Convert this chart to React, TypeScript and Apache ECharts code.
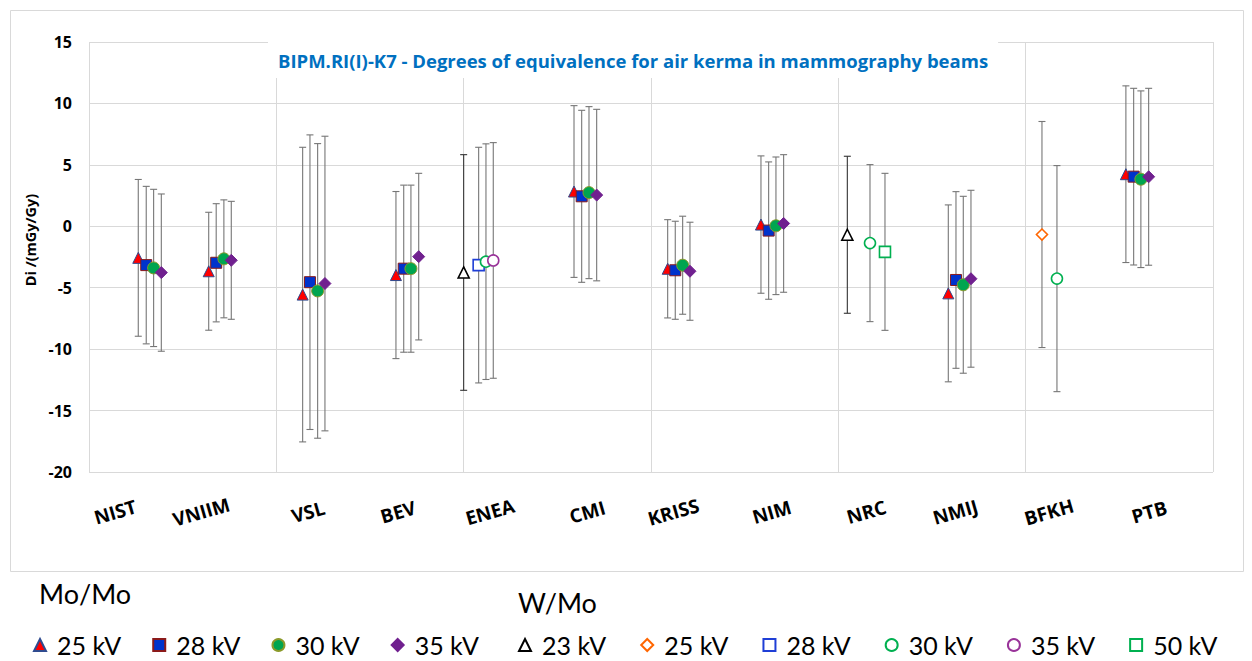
import React, { useEffect, useRef } from 'react';
import * as echarts from 'echarts';

// ---------- data ----------
const LABS = ['NIST', 'VNIIM', 'VSL', 'BEV', 'ENEA', 'CMI', 'KRISS', 'NIM', 'NRC', 'NMIJ', 'BFKH', 'PTB'];
const LAB_LABEL_X = [0.28, 1.2, 2.34, 3.3, 4.28, 5.32, 6.24, 7.29, 8.3, 9.25, 10.25, 11.32];

const Y_MIN = -20;
const Y_MAX = 15;
const Y_STEP = 5;
const X_MIN = 0;
const X_MAX = 12;
const X_STEP = 2;

const TITLE = 'BIPM.RI(I)-K7 - Degrees of equivalence for air kerma in mammography beams';
const Y_NAME = 'Di /(mGy/Gy)';
const GROUPS = ['Mo/Mo', 'W/Mo'];

// Mo/Mo  (labs: NIST, VNIIM, VSL, BEV, CMI, KRISS, NIM, NMIJ, PTB)
const MOMO25_X = [0.526, 1.278, 2.281, 3.277, 5.178, 6.178, 7.174, 9.174, 11.07];
const MOMO25_D = [-2.57, -3.66, -5.56, -3.97, 2.83, -3.46, 0.14, -5.46, 4.24];
const MOMO25_U = [6.38, 4.8, 11.99, 6.8, 6.99, 4.0, 5.59, 7.2, 7.19];

const MOMO28_X = [0.611, 1.358, 2.359, 3.36, 5.26, 6.259, 7.256, 9.256, 11.153];
const MOMO28_D = [-3.16, -2.97, -4.55, -3.45, 2.44, -3.58, -0.35, -4.37, 4.04];
const MOMO28_U = [6.41, 4.81, 11.99, 6.8, 7.0, 3.99, 5.59, 7.19, 7.19];

const MOMO30_X = [0.69, 1.44, 2.441, 3.437, 5.338, 6.338, 7.334, 9.334, 11.23];
const MOMO30_D = [-3.39, -2.65, -5.26, -3.45, 2.74, -3.17, 0.04, -4.76, 3.83];
const MOMO30_U = [6.4, 4.8, 11.99, 6.8, 7.0, 3.99, 5.6, 7.2, 7.19];

const MOMO35_X = [0.772, 1.519, 2.519, 3.52, 5.42, 6.416, 7.416, 9.416, 11.313];
const MOMO35_D = [-3.77, -2.77, -4.66, -2.47, 2.54, -3.66, 0.23, -4.27, 4.03];
const MOMO35_U = [6.4, 4.8, 11.99, 6.78, 6.98, 3.99, 5.6, 7.2, 7.2];

// W/Mo
const WMO23_X = [4.0, 8.096];          // ENEA, NRC
const WMO23_D = [-3.76, -0.69];
const WMO23_U = [9.59, 6.39];

const WMO25_X = [10.174];              // BFKH
const WMO25_D = [-0.67];
const WMO25_U = [9.2];

const WMO28_X = [4.16];                // ENEA
const WMO28_D = [-3.16];
const WMO28_U = [9.59];

const WMO30_X = [4.238, 8.338, 10.334]; // ENEA, NRC, BFKH
const WMO30_D = [-2.88, -1.37, -4.26];
const WMO30_U = [9.59, 6.39, 9.2];

const WMO35_X = [4.316];               // ENEA
const WMO35_D = [-2.78];
const WMO35_U = [9.59];

const WMO50_X = [8.498];               // NRC
const WMO50_D = [-2.08];
const WMO50_U = [6.39];

// ---------- styles ----------
type Def = {
  id: string; group: string;
  x: number[]; d: number[]; u: number[];
  symbol: string; size: number; fill: string; border: string; bw: number; bar: string;
};

const DEFS: Def[] = [
  { id: 'Mo/Mo 25 kV', group: 'Mo/Mo', x: MOMO25_X, d: MOMO25_D, u: MOMO25_U, symbol: 'triangle', size: 11, fill: '#FF0000', border: '#2F4B8F', bw: 1, bar: '#767676' },
  { id: 'Mo/Mo 28 kV', group: 'Mo/Mo', x: MOMO28_X, d: MOMO28_D, u: MOMO28_U, symbol: 'rect', size: 11, fill: '#0033CC', border: '#8B1A1A', bw: 1, bar: '#767676' },
  { id: 'Mo/Mo 30 kV', group: 'Mo/Mo', x: MOMO30_X, d: MOMO30_D, u: MOMO30_U, symbol: 'circle', size: 12, fill: '#00A550', border: '#8A9A2A', bw: 1, bar: '#767676' },
  { id: 'Mo/Mo 35 kV', group: 'Mo/Mo', x: MOMO35_X, d: MOMO35_D, u: MOMO35_U, symbol: 'diamond', size: 12, fill: '#70208F', border: '#70208F', bw: 1, bar: '#767676' },
  { id: 'W/Mo 23 kV', group: 'W/Mo', x: WMO23_X, d: WMO23_D, u: WMO23_U, symbol: 'triangle', size: 11, fill: '#ffffff', border: '#000000', bw: 1.6, bar: '#333333' },
  { id: 'W/Mo 25 kV', group: 'W/Mo', x: WMO25_X, d: WMO25_D, u: WMO25_U, symbol: 'diamond', size: 11, fill: '#ffffff', border: '#FF6600', bw: 1.6, bar: '#767676' },
  { id: 'W/Mo 28 kV', group: 'W/Mo', x: WMO28_X, d: WMO28_D, u: WMO28_U, symbol: 'rect', size: 11, fill: '#ffffff', border: '#1F3FD6', bw: 1.6, bar: '#767676' },
  { id: 'W/Mo 30 kV', group: 'W/Mo', x: WMO30_X, d: WMO30_D, u: WMO30_U, symbol: 'circle', size: 11, fill: '#ffffff', border: '#00B050', bw: 1.6, bar: '#767676' },
  { id: 'W/Mo 35 kV', group: 'W/Mo', x: WMO35_X, d: WMO35_D, u: WMO35_U, symbol: 'circle', size: 11, fill: '#ffffff', border: '#993399', bw: 1.6, bar: '#767676' },
  { id: 'W/Mo 50 kV', group: 'W/Mo', x: WMO50_X, d: WMO50_D, u: WMO50_U, symbol: 'rect', size: 11, fill: '#ffffff', border: '#00B050', bw: 1.6, bar: '#767676' },
];

const FONT = "'Open Sans', 'Noto Sans', sans-serif";
const LEG_FONT = "Lato, 'Noto Sans', sans-serif";

function errorBarSeries(def: Def) {
  return {
    type: 'custom',
    name: def.id + ' U',
    silent: true,
    z: 2,
    data: def.x.map((xi, i) => [xi, def.d[i], def.u[i]]),
    encode: { x: 0, y: 1 },
    renderItem: (_params: any, api: any) => {
      const xv = api.value(0);
      const v = api.value(1);
      const e = api.value(2);
      const top = api.coord([xv, v + e]);
      const bot = api.coord([xv, v - e]);
      const cw = 3.5;
      const style = { stroke: def.bar, lineWidth: 1.1 };
      return {
        type: 'group',
        children: [
          { type: 'line', shape: { x1: top[0], y1: top[1], x2: bot[0], y2: bot[1] }, style },
          { type: 'line', shape: { x1: top[0] - cw, y1: top[1], x2: top[0] + cw, y2: top[1] }, style },
          { type: 'line', shape: { x1: bot[0] - cw, y1: bot[1], x2: bot[0] + cw, y2: bot[1] }, style },
        ],
      };
    },
  };
}

function scatterSeries(def: Def) {
  return {
    type: 'scatter',
    name: def.id,
    z: 4,
    symbol: def.symbol,
    symbolSize: def.size,
    data: def.x.map((xi, i) => [xi, def.d[i]]),
    itemStyle: { color: def.fill, borderColor: def.border, borderWidth: def.bw, opacity: 1 },
  };
}

function legendFor(group: string, left: number, gap: number) {
  return {
    left,
    top: 626,
    orient: 'horizontal',
    itemWidth: 12,
    itemHeight: 12,
    itemGap: gap,
    selectedMode: false,
    data: DEFS.filter((d) => d.group === group).map((d) => d.id),
    formatter: (name: string) => name.split(' ').slice(1).join(' '),
    textStyle: { fontFamily: LEG_FONT, fontSize: 25, color: '#000', lineHeight: 28, padding: [0, 0, 0, 6] },
  };
}

export default function App() {
  const ref = useRef<HTMLDivElement>(null);

  useEffect(() => {
    if (!ref.current) return;
    const chart = echarts.init(ref.current, undefined, { renderer: 'svg' });

    const labelSeries = {
      type: 'custom',
      name: 'labs',
      silent: true,
      clip: false,
      z: 5,
      data: LAB_LABEL_X.map((x) => [x, Y_MIN]),
      encode: { x: 0, y: 1 },
      renderItem: (params: any, api: any) => {
        const p = api.coord([api.value(0), api.value(1)]);
        return {
          type: 'text',
          x: p[0],
          y: p[1] + 40,
          rotation: (16 * Math.PI) / 180,
          style: {
            text: LABS[params.dataIndex],
            fontFamily: FONT,
            fontWeight: 'bold',
            fontSize: 19,
            fill: '#000',
            align: 'center',
            verticalAlign: 'middle',
          },
        };
      },
    };

    const option: any = {
      animation: false,
      backgroundColor: '#ffffff',
      title: {
        text: TITLE,
        left: 268,
        top: 42,
        padding: [7, 10],
        backgroundColor: '#ffffff',
        textStyle: { fontFamily: FONT, fontWeight: 'bold', fontSize: 18.5, color: '#0070C0', lineHeight: 22 },
      },
      grid: { left: 89, right: 39, top: 42, bottom: 189, containLabel: false },
      xAxis: {
        type: 'value',
        min: X_MIN,
        max: X_MAX,
        interval: X_STEP,
        axisLine: { show: false },
        axisTick: { show: false },
        axisLabel: { show: false },
        splitLine: { show: true, lineStyle: { color: '#d9d9d9', width: 1 } },
      },
      yAxis: {
        type: 'value',
        min: Y_MIN,
        max: Y_MAX,
        interval: Y_STEP,
        name: Y_NAME,
        nameLocation: 'middle',
        nameRotate: 90,
        nameGap: 50,
        nameTextStyle: { fontFamily: FONT, fontWeight: 'bold', fontSize: 14.5, color: '#000', padding: [0, 0, 0, 34] },
        axisLine: { show: false },
        axisTick: { show: false },
        axisLabel: { fontFamily: FONT, fontWeight: 'bold', fontSize: 16, color: '#000', margin: 17 },
        splitLine: { show: true, lineStyle: { color: '#d9d9d9', width: 1 } },
      },
      legend: [legendFor('Mo/Mo', 28, 31), legendFor('W/Mo', 513, 34)],
      graphic: [
        {
          type: 'rect',
          left: 8,
          top: 8,
          z: -10,
          shape: { x: 0, y: 0, width: 1233, height: 561 },
          style: { fill: 'none', stroke: '#d9d9d9', lineWidth: 1 },
          silent: true,
        },
        {
          type: 'text',
          left: 39,
          top: 580,
          style: { text: GROUPS[0], fontFamily: LEG_FONT, fontSize: 27, fill: '#000' },
        },
        {
          type: 'text',
          left: 518,
          top: 589,
          style: { text: GROUPS[1], fontFamily: LEG_FONT, fontSize: 27, fill: '#000' },
        },
      ],
      series: [
        ...DEFS.map(errorBarSeries),
        ...DEFS.map(scatterSeries),
        labelSeries,
      ],
    };

    chart.setOption(option);
    return () => chart.dispose();
  }, []);

  return (
    <div
      ref={ref}
      style={{ position: 'fixed', left: 0, top: 0, width: 1252, height: 661, background: '#fff' }}
    />
  );
}
